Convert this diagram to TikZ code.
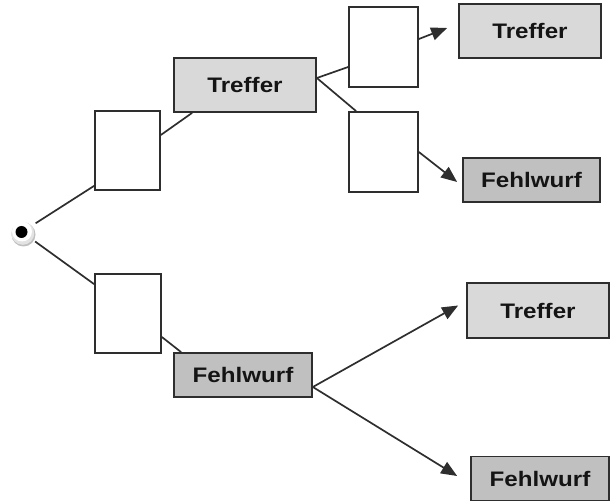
\documentclass[tikz,border=0pt]{standalone}
\usepackage{fontspec}
\setmainfont{Liberation Sans}[FakeStretch=1.15]
\usetikzlibrary{arrows.meta}
\definecolor{lnc}{HTML}{2E2E2E}
\definecolor{lightfill}{HTML}{D9D9D9}
\definecolor{darkfill}{HTML}{C0C0C0}
\tikzset{
  emptybox/.style={draw=lnc, line width=1.7pt, fill=white, inner sep=0pt},
  hitbox/.style={draw=lnc, line width=1.7pt, fill=lightfill, inner sep=0pt,
     font=\fontsize{21}{23}\selectfont\bfseries, text=black!92},
  missbox/.style={draw=lnc, line width=1.7pt, fill=darkfill, inner sep=0pt,
     font=\fontsize{21}{23}\selectfont\bfseries, text=black!92},
  conn/.style={draw=lnc, line width=1.7pt},
  arr/.style={conn, -{Triangle[length=16pt,width=13pt]}},
}
\begin{document}
\begin{tikzpicture}[x=1pt,y=-1pt]
\useasboundingbox (0,0) rectangle (615,502);
% start dot
\node[circle, minimum size=32pt, inner sep=0pt] (s) at (22,232) {};
\fill[gray!50] (23.5,234.5) circle (12);
\fill[gray!22] (22.8,233.3) circle (11.5);
\fill[white] (22,231.5) circle (10);
\fill[black] (21.5,232) circle (6);
% boxes
\node[emptybox, minimum width=65pt, minimum height=79pt] (A) at (127.5,150.5) {};
\node[emptybox, minimum width=66pt, minimum height=79pt] (B) at (128,313.5) {};
\node[hitbox, minimum width=142pt, minimum height=54pt] (T1) at (245,85) {Treffer};
\node[missbox, minimum width=138pt, minimum height=44pt] (F1) at (243,375) {Fehlwurf};
\node[emptybox, minimum width=69pt, minimum height=80pt] (C) at (383.5,47) {};
\node[emptybox, minimum width=69pt, minimum height=80pt] (D) at (383.5,152) {};
\node[hitbox, minimum width=142pt, minimum height=54pt] (TR) at (530,31) {Treffer};
\node[missbox, minimum width=137pt, minimum height=44pt] (FR) at (531.5,180) {Fehlwurf};
\node[hitbox, minimum width=142pt, minimum height=55pt] (BR) at (538,310.5) {Treffer};
\node[missbox, minimum width=138pt, minimum height=44pt] (BRR) at (540,478.5) {Fehlwurf};
% connectors
\draw[conn] (s) -- ([yshift=5pt]A.south west);
\draw[conn] (s) -- ([yshift=-11pt]B.north west);
\draw[conn] ([yshift=15.5pt]A.east) -- ([xshift=19pt]T1.south west);
\draw[conn] ([yshift=7pt]T1.east) -- ([yshift=-20pt]C.west);
\draw[conn] ([yshift=7pt]T1.east) -- ([xshift=8pt]D.north west);
\draw[arr] ([yshift=8pt]C.east) -- ([xshift=-11pt,yshift=3pt]TR.west);
\draw[arr] (D.east) -- ([xshift=-5pt,yshift=-2pt]FR.west);
\draw[conn] ([yshift=-23.5pt]B.east) -- ([xshift=8pt]F1.north west);
\draw[arr] ([yshift=-12pt]F1.east) -- ([xshift=-8pt,yshift=5pt]BR.west);
\draw[arr] ([yshift=-12pt]F1.east) -- ([xshift=-13pt,yshift=2.5pt]BRR.west);
\end{tikzpicture}
\end{document}
